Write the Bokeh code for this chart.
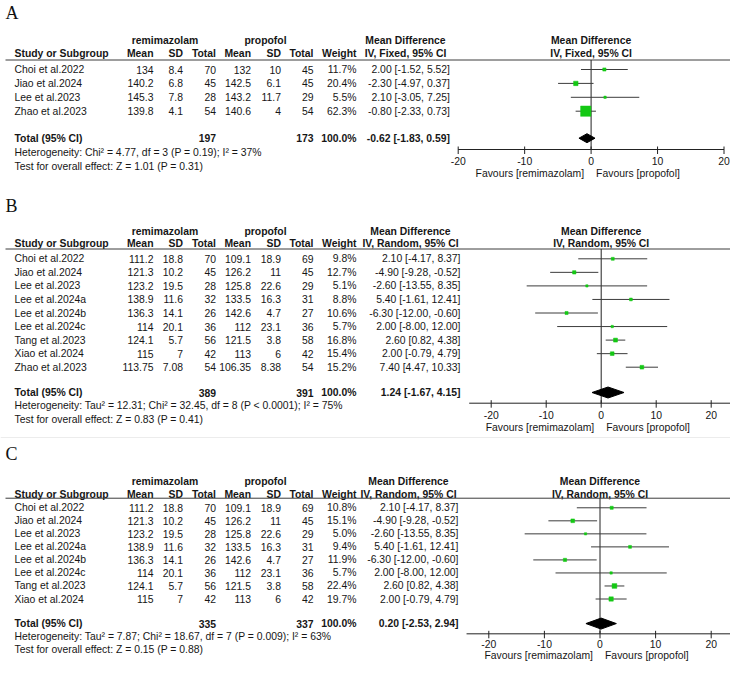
from bokeh.plotting import figure
from bokeh.models import Range1d
from bokeh.embed import file_html
from bokeh.resources import INLINE
from bokeh.core.properties import value

# ---------------- data ----------------
a_study = ["Choi et al.2022", "Jiao et al.2024", "Lee et al.2023", "Zhao et al.2023"]
a_rm_mean = [134, 140.2, 145.3, 139.8]
a_rm_sd = [8.4, 6.8, 7.8, 4.1]
a_rm_n = [70, 45, 28, 54]
a_pp_mean = [132, 142.5, 143.2, 140.6]
a_pp_sd = [10, 6.1, 11.7, 4]
a_pp_n = [45, 45, 29, 54]
a_weight = [11.7, 20.4, 5.5, 62.3]
a_md = [2.00, -2.30, 2.10, -0.80]
a_lo = [-1.52, -4.97, -3.05, -2.33]
a_hi = [5.52, 0.37, 7.25, 0.73]
a_total = [197, 173, -0.62, -1.83, 0.59]
a_het = "Heterogeneity: Chi\u00b2 = 4.77, df = 3 (P = 0.19); I\u00b2 = 37%"
a_test = "Test for overall effect: Z = 1.01 (P = 0.31)"

b_study = ["Choi et al.2022", "Jiao et al.2024", "Lee et al.2023", "Lee et al.2024a",
           "Lee et al.2024b", "Lee et al.2024c", "Tang et al.2023", "Xiao et al.2024",
           "Zhao et al.2023"]
b_rm_mean = [111.2, 121.3, 123.2, 138.9, 136.3, 114, 124.1, 115, 113.75]
b_rm_sd = [18.8, 10.2, 19.5, 11.6, 14.1, 20.1, 5.7, 7, 7.08]
b_rm_n = [70, 45, 28, 32, 26, 36, 56, 42, 54]
b_pp_mean = [109.1, 126.2, 125.8, 133.5, 142.6, 112, 121.5, 113, 106.35]
b_pp_sd = [18.9, 11, 22.6, 16.3, 4.7, 23.1, 3.8, 6, 8.38]
b_pp_n = [69, 45, 29, 31, 27, 36, 58, 42, 54]
b_weight = [9.8, 12.7, 5.1, 8.8, 10.6, 5.7, 16.8, 15.4, 15.2]
b_md = [2.10, -4.90, -2.60, 5.40, -6.30, 2.00, 2.60, 2.00, 7.40]
b_lo = [-4.17, -9.28, -13.55, -1.61, -12.00, -8.00, 0.82, -0.79, 4.47]
b_hi = [8.37, -0.52, 8.35, 12.41, -0.60, 12.00, 4.38, 4.79, 10.33]
b_total = [389, 391, 1.24, -1.67, 4.15]
b_het = "Heterogeneity: Tau\u00b2 = 12.31; Chi\u00b2 = 32.45, df = 8 (P < 0.0001); I\u00b2 = 75%"
b_test = "Test for overall effect: Z = 0.83 (P = 0.41)"

c_study = ["Choi et al.2022", "Jiao et al.2024", "Lee et al.2023", "Lee et al.2024a",
           "Lee et al.2024b", "Lee et al.2024c", "Tang et al.2023", "Xiao et al.2024"]
c_rm_mean = [111.2, 121.3, 123.2, 138.9, 136.3, 114, 124.1, 115]
c_rm_sd = [18.8, 10.2, 19.5, 11.6, 14.1, 20.1, 5.7, 7]
c_rm_n = [70, 45, 28, 32, 26, 36, 56, 42]
c_pp_mean = [109.1, 126.2, 125.8, 133.5, 142.6, 112, 121.5, 113]
c_pp_sd = [18.9, 11, 22.6, 16.3, 4.7, 23.1, 3.8, 6]
c_pp_n = [69, 45, 29, 31, 27, 36, 58, 42]
c_weight = [10.8, 15.1, 5.0, 9.4, 11.9, 5.7, 22.4, 19.7]
c_md = [2.10, -4.90, -2.60, 5.40, -6.30, 2.00, 2.60, 2.00]
c_lo = [-4.17, -9.28, -13.55, -1.61, -12.00, -8.00, 0.82, -0.79]
c_hi = [8.37, -0.52, 8.35, 12.41, -0.60, 12.00, 4.38, 4.79]
c_total = [335, 337, 0.20, -2.53, 2.94]
c_het = "Heterogeneity: Tau\u00b2 = 7.87; Chi\u00b2 = 18.67, df = 7 (P = 0.009); I\u00b2 = 63%"
c_test = "Test for overall effect: Z = 0.15 (P = 0.88)"

md_ticks = [-20, -10, 0, 10, 20]
col_headers = ["Mean", "SD", "Total", "Mean", "SD", "Total", "Weight"]
group_labels = ["remimazolam", "propofol"]
fav_labels = ["Favours [remimazolam]", "Favours [propofol]"]

# ---------------- styling / layout (pixel coordinates) ----------------
PW, PH = 730, 661
FONT = value("Liberation Sans")
FS = "10.4px"
TXT = "#161616"
GREEN = "#14c814"
LINE = "#3c3c3c"


def Y(y):
    # keep the top part 1:1, squeeze the lowest panel slightly so it fits the page
    return y if y <= 440 else 440 + (y - 440) * (655 - 440) / (671 - 440)


col_right = [153, 182.5, 215.5, 250.5, 280.5, 313, 356]
grp_center = [164.5, 265]

panels = [
    dict(name="mdA", letter="A", data=(a_study, a_rm_mean, a_rm_sd, a_rm_n, a_pp_mean, a_pp_sd,
                                     a_pp_n, a_weight, a_md, a_lo, a_hi, a_total, a_het, a_test),
         method="IV, Fixed, 95% CI", letter_y=12.5, grp_y=40, hdr_y=53.3, rule_y=59.5,
         row0=69, step=13.9, total_y=137.7, het_y=152, test_y=165.7, axis_y=149,
         tick_y=160, fav_y=173.3, px_m20=457.7, px_p20=723.5, axis_span=20,
         ci_right=449.5, hdr_center=405, dia_h=9),
    dict(name="mdB", letter="B", data=(b_study, b_rm_mean, b_rm_sd, b_rm_n, b_pp_mean, b_pp_sd,
                                     b_pp_n, b_weight, b_md, b_lo, b_hi, b_total, b_het, b_test),
         method="IV, Random, 95% CI", letter_y=205, grp_y=231, hdr_y=243.3, rule_y=248.5,
         row0=258.3, step=13.55, total_y=392, het_y=405.3, test_y=418.5, axis_y=402.7,
         tick_y=414.3, fav_y=427.3, px_m20=490.7, px_p20=710.7, axis_span=24,
         ci_right=460, hdr_center=410, dia_h=11),
    dict(name="mdC", letter="C", data=(c_study, c_rm_mean, c_rm_sd, c_rm_n, c_pp_mean, c_pp_sd,
                                     c_pp_n, c_weight, c_md, c_lo, c_hi, c_total, c_het, c_test),
         method="IV, Random, 95% CI", letter_y=455, grp_y=484.3, hdr_y=497.7, rule_y=502,
         row0=512.3, step=14.0, total_y=636.7, het_y=650.7, test_y=664.3, axis_y=647.7,
         tick_y=658.3, fav_y=671, px_m20=488.3, px_p20=710.7, axis_span=24,
         ci_right=458, hdr_center=408, dia_h=11),
]

p = figure(width=PW, height=PH, output_backend="svg", toolbar_location=None,
           x_range=Range1d(0, PW), y_range=Range1d(PH, 0),
           min_border=0, x_axis_type=None, y_axis_type=None)
p.grid.visible = False
p.outline_line_color = None
p.background_fill_color = "white"

for pn in panels:
    ppu = (pn["px_p20"] - pn["px_m20"]) / 40.0
    zero = (pn["px_p20"] + pn["px_m20"]) / 2.0
    p.extra_x_ranges[pn["name"]] = Range1d(-zero / ppu, (PW - zero) / ppu)


def txt(x, y, t, align="left", bold=False, rng=None, size=FS, font=FONT, color=TXT, x_off=0):
    kw = dict(x=x, y=[Y(v) for v in y], text=t, text_font=font, text_font_size=size,
              text_align=align, text_baseline="middle", text_color=color,
              text_font_style="bold" if bold else "normal", x_offset=x_off)
    if rng:
        kw["x_range_name"] = rng
    p.text(**kw)


fmt = lambda v: f"{v:g}"

for pn in panels:
    (study, rm_m, rm_sd, rm_n, pp_m, pp_sd, pp_n, wt, md, lo, hi, tot, het, test) = pn["data"]
    rng = pn["name"]
    n = len(study)
    ys = [pn["row0"] + i * pn["step"] for i in range(n)]
    ysm = [Y(v) for v in ys]

    # panel letter
    txt([5], [pn["letter_y"]], [pn["letter"]], font=value("Liberation Serif"), size="18px",
        color="#111111")

    # group headers
    txt(grp_center, [pn["grp_y"]] * 2, group_labels, align="center", bold=True)
    txt([pn["hdr_center"]], [pn["grp_y"]], ["Mean Difference"], align="center", bold=True)
    txt([0], [pn["grp_y"]], ["Mean Difference"], align="center", bold=True, rng=rng)

    # column headers
    txt([14], [pn["hdr_y"]], ["Study or Subgroup"], bold=True)
    txt(col_right, [pn["hdr_y"]] * 7, col_headers, align="right", bold=True)
    txt([pn["hdr_center"]], [pn["hdr_y"]], [pn["method"]], align="center", bold=True)
    txt([0], [pn["hdr_y"]], [pn["method"]], align="center", bold=True, rng=rng)

    # header rule
    ry = Y(pn["rule_y"])
    p.segment(x0=[5], x1=[PW], y0=[ry], y1=[ry], line_color=LINE, line_width=1)

    # study rows
    txt([14] * n, ys, study)
    cols = [[fmt(v) for v in rm_m], [fmt(v) for v in rm_sd], [str(v) for v in rm_n],
            [fmt(v) for v in pp_m], [fmt(v) for v in pp_sd], [str(v) for v in pp_n],
            [f"{v:.1f}%" for v in wt]]
    for cx, col in zip(col_right, cols):
        txt([cx] * n, ys, col, align="right")
    ci_txt = [f"{m:.2f} [{l:.2f}, {h:.2f}]" for m, l, h in zip(md, lo, hi)]
    txt([pn["ci_right"]] * n, ys, ci_txt, align="right")

    # total row
    ty = pn["total_y"]
    txt([14], [ty], ["Total (95% CI)"], bold=True)
    txt([col_right[2], col_right[5], col_right[6]], [ty] * 3,
        [str(tot[0]), str(tot[1]), "100.0%"], align="right", bold=True)
    txt([pn["ci_right"]], [ty], [f"{tot[2]:.2f} [{tot[3]:.2f}, {tot[4]:.2f}]"],
        align="right", bold=True)
    txt([14], [pn["het_y"]], [het])
    txt([14], [pn["test_y"]], [test])

    ay = Y(pn["axis_y"])
    # forest: zero line
    p.segment(x0=[0], x1=[0], y0=[ry], y1=[ay], line_color="#222222",
              line_width=1, x_range_name=rng)
    # CIs
    p.segment(x0=lo, x1=hi, y0=ysm, y1=ysm, line_color=LINE, line_width=1, x_range_name=rng)
    # squares
    sizes = [1.6 + 0.14 * w for w in wt]
    p.scatter(x=md, y=ysm, size=sizes, marker="square", fill_color=GREEN, line_color=GREEN,
              line_width=0.5, x_range_name=rng)
    # diamond
    h = pn["dia_h"] / 2
    tym = Y(ty)
    p.patch(x=[tot[3], tot[2], tot[4], tot[2]], y=[tym, tym - h, tym, tym + h],
            fill_color="black", line_color="black", x_range_name=rng)
    # axis
    s = pn["axis_span"]
    p.segment(x0=[-s], x1=[s], y0=[ay], y1=[ay], line_color="#222222", line_width=1,
              x_range_name=rng)
    p.segment(x0=md_ticks, x1=md_ticks, y0=[ay - 3] * 5, y1=[ay + 4.5] * 5,
              line_color="#222222", line_width=1, x_range_name=rng)
    txt(md_ticks, [pn["tick_y"]] * 5, [str(t) for t in md_ticks], align="center", rng=rng)
    txt([0], [pn["fav_y"]], [fav_labels[0]], align="right", rng=rng, x_off=-7)
    txt([0], [pn["fav_y"]], [fav_labels[1]], align="left", rng=rng, x_off=5)

# faint frame of panel B image
p.segment(x0=[0], x1=[PW], y0=[437], y1=[437], line_color="#ececec", line_width=1)

open("out.html", "w").write(file_html(p, INLINE))
